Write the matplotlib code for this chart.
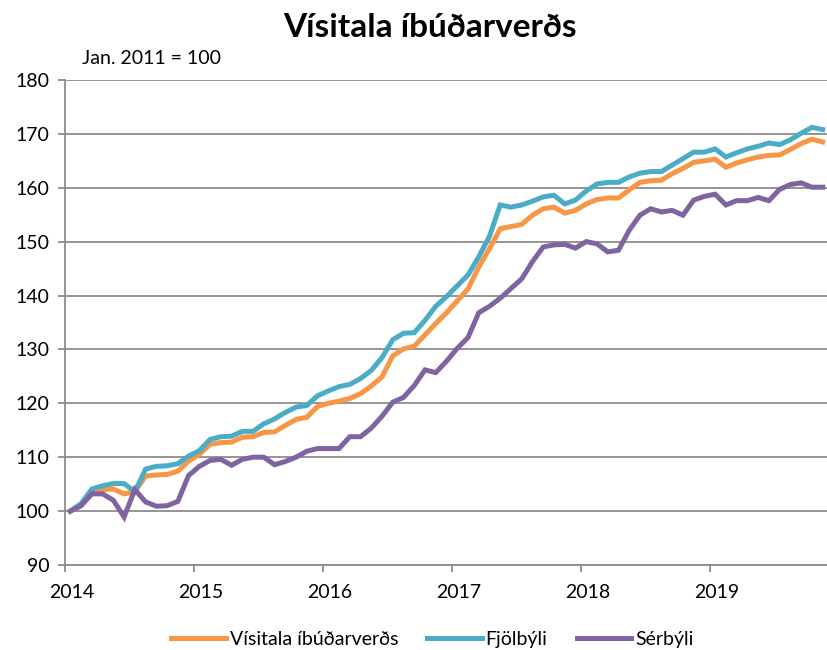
import matplotlib
matplotlib.use("Agg")
import matplotlib.pyplot as plt
import matplotlib.transforms as mtransforms
import numpy as np

plt.rcParams['font.family'] = ['Lato', 'DejaVu Sans']

title = "Vísitala íbúðarverðs"
subtitle = "Jan. 2011 = 100"
series_names = ["Vísitala íbúðarverðs", "Fjölbýli", "Sérbýli"]
year_labels = ["2014", "2015", "2016", "2017", "2018", "2019"]
yticks = [90, 100, 110, 120, 130, 140, 150, 160, 170, 180]

# Monthly values, Jan 2014 - Nov 2019
visitala = [100, 101.2, 103.7, 104, 104.1, 103.2, 103.6, 106.5, 106.7, 106.8, 107.4, 109.3,
            110.5, 112.4, 112.7, 112.8, 113.7, 113.8, 114.6, 114.7, 115.9, 117, 117.4, 119.4,
            120, 120.4, 120.9, 121.8, 123.2, 124.9, 128.8, 130.1, 130.6, 132.7, 134.8, 136.8,
            139, 141.2, 145.3, 148.7, 152.4, 152.8, 153.2, 154.9, 156.1, 156.4, 155.3, 155.8,
            157, 157.8, 158.1, 158.1, 159.6, 161, 161.3, 161.4, 162.6, 163.6, 164.7, 165,
            165.3, 163.8, 164.6, 165.2, 165.7, 166, 166.1, 167.1, 168.2, 169, 168.5]
fjolbyli = [100, 101.4, 104.1, 104.7, 105.1, 105.1, 103.6, 107.8, 108.3, 108.4, 108.8, 110.2,
            111.2, 113.3, 113.8, 113.9, 114.8, 114.8, 116.2, 117.1, 118.3, 119.3, 119.6, 121.4,
            122.3, 123.1, 123.5, 124.6, 126.1, 128.5, 131.8, 133, 133.1, 135.4, 138, 139.8,
            141.8, 143.8, 147.2, 151, 156.8, 156.4, 156.8, 157.5, 158.3, 158.6, 157, 157.7,
            159.4, 160.7, 161, 161, 162, 162.7, 163, 163, 164.2, 165.4, 166.6, 166.6,
            167.2, 165.7, 166.5, 167.2, 167.7, 168.3, 168, 168.9, 170.1, 171.2, 170.8]
serbyli = [100, 101, 103.2, 103.2, 102, 98.9, 104, 101.7, 100.9, 101, 101.8, 106.6,
           108.3, 109.4, 109.6, 108.5, 109.6, 110, 110, 108.6, 109.2, 110, 111.1, 111.6,
           111.6, 111.6, 113.8, 113.8, 115.4, 117.6, 120.2, 121.1, 123.3, 126.2, 125.7, 127.8,
           130.2, 132.2, 136.8, 138, 139.5, 141.3, 143.1, 146.3, 149, 149.4, 149.5, 148.8,
           150, 149.6, 148.1, 148.4, 152.1, 154.9, 156.1, 155.5, 155.8, 154.9, 157.7, 158.4,
           158.8, 156.8, 157.6, 157.6, 158.2, 157.6, 159.7, 160.6, 160.9, 160.1, 160.1]

colors = ["#F79646", "#4BACC6", "#8064A2"]

fig = plt.figure(figsize=(8.28, 6.5), dpi=100)
ax = fig.add_axes([0.0785, 0.1308, 0.9215, 0.7462])

months = np.arange(len(visitala)) + 0.5
for vals, c, name in zip([visitala, fjolbyli, serbyli], colors, series_names):
    ax.plot(months, vals, color=c, lw=3.6, label=name, solid_joinstyle='miter')

ax.set_xlim(0, 71)
ax.set_ylim(90, 180)
ax.set_yticks(yticks)
ax.set_xticks([12 * k for k in range(len(year_labels))])
ax.set_xticklabels(year_labels)
ax.grid(axis='y', color='#8c8c8c', lw=1.3)
ax.set_axisbelow(True)
for s in ['top', 'right']:
    ax.spines[s].set_visible(False)
for s in ['left', 'bottom']:
    ax.spines[s].set_color('#8c8c8c')
    ax.spines[s].set_linewidth(1.3)
ax.tick_params(axis='both', colors='#8c8c8c', length=5, width=1.3, labelsize=14, labelcolor='black')
ax.tick_params(axis='x', pad=9)
ax.tick_params(axis='y', pad=6)
offset = mtransforms.ScaledTranslation(7 / 100, 0, fig.dpi_scale_trans)
for lbl in ax.get_xticklabels():
    lbl.set_transform(lbl.get_transform() + offset)

fig.text(0.519, 0.957, title, ha='center', va='center', fontsize=24, fontweight='bold')
fig.text(0.099, 0.91, subtitle, ha='left', va='center', fontsize=14)

fig.legend(loc='center', bbox_to_anchor=(0.522, 0.016), ncol=3, frameon=False,
           fontsize=14, handlelength=2.8, columnspacing=1.5, handletextpad=0.2)

fig.savefig("out.png", dpi=100)
